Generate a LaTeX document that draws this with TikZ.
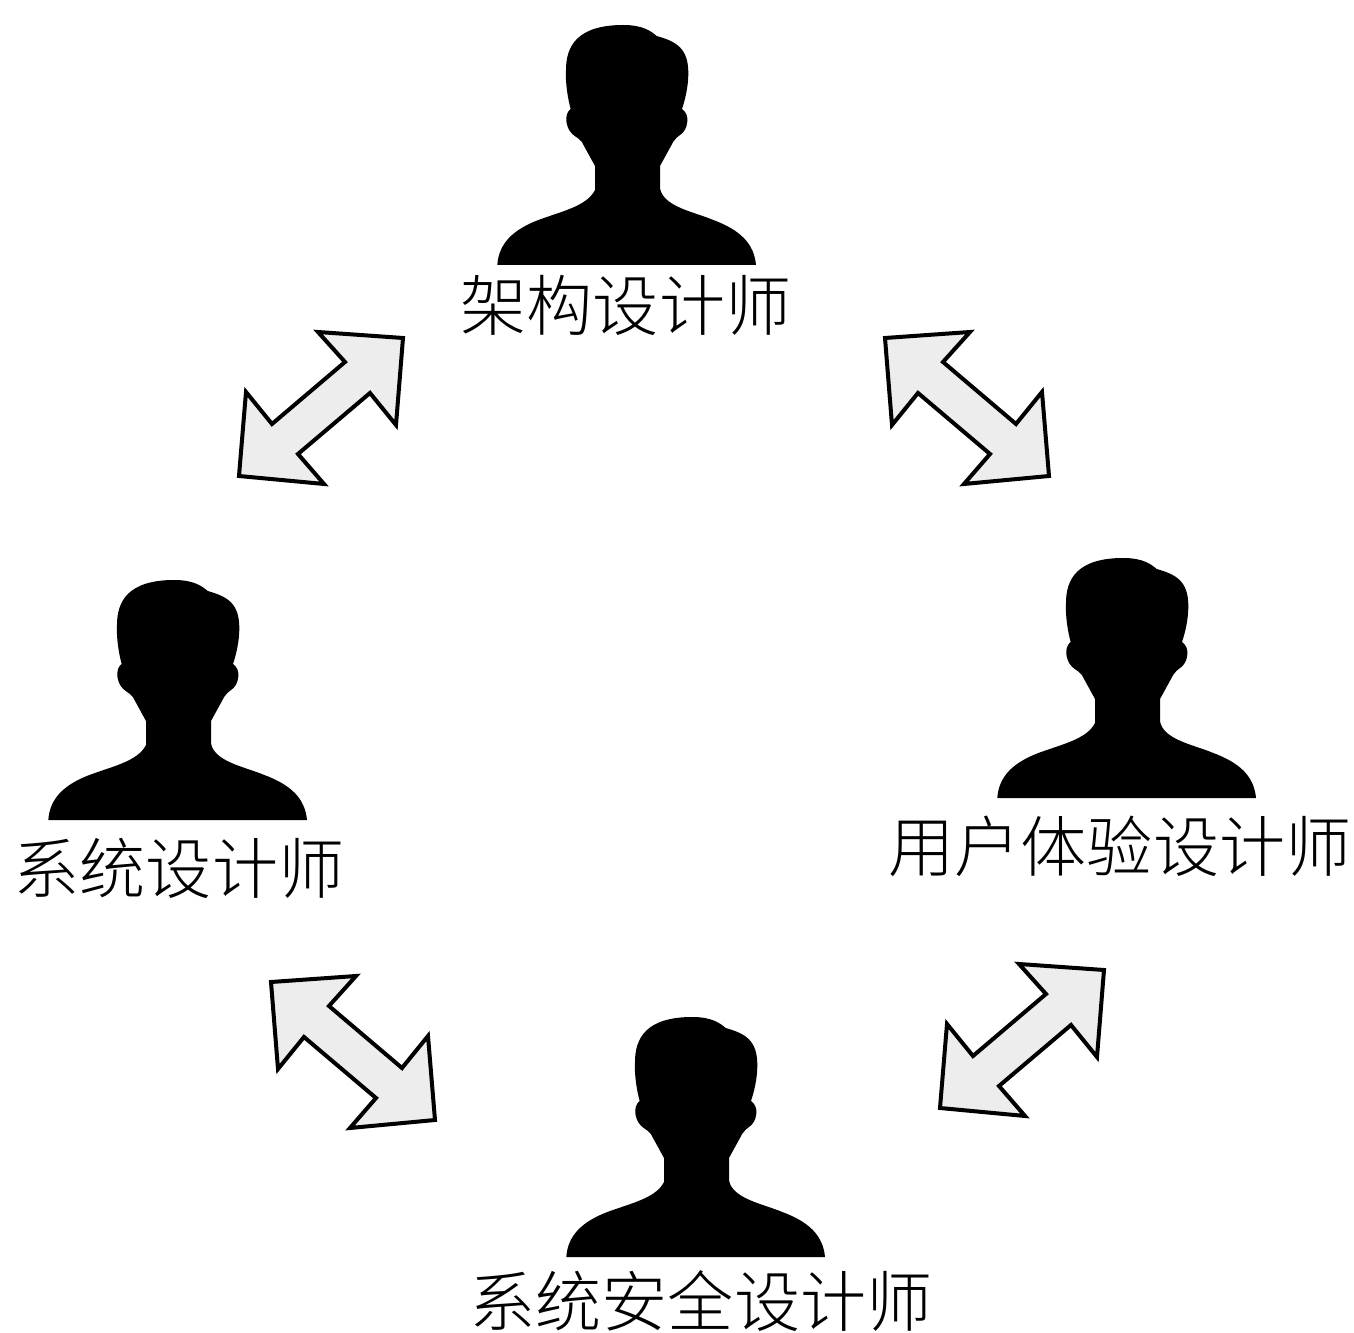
\documentclass[tikz,border=0pt]{standalone}
\usepackage{fontspec}
\newfontfamily\cjk[UprightFont={* Light}]{Noto Sans CJK SC}
\tikzset{
  lbl/.style={inner sep=0pt,font=\cjk\fontsize{49.6}{52}\selectfont,text=black},
  blockarrow/.style={draw=black,fill=black!7,line width=3pt,line join=miter,miter limit=6},
  person/.pic={
    \fill[black,x=0.25pt,y=-0.25pt] (52,765) .. controls (56,700) and (100,660) .. (170,632)
      .. controls (240,605) and (320,590) .. (345,540) -- (345,468) -- (305,395)
      .. controls (295,380) and (268,378) .. (260,340) .. controls (256,318) and (262,305) .. (272,297)
      .. controls (262,260) and (256,215) .. (258,180) .. controls (258,110) and (290,45) .. (430,45)
      .. controls (490,45) and (515,65) .. (530,78) .. controls (590,95) and (625,115) .. (625,190)
      .. controls (625,230) and (615,270) .. (606,297) .. controls (618,305) and (624,320) .. (622,335)
      .. controls (618,375) and (590,375) .. (580,395) -- (540,468) -- (540,535)
      .. controls (550,590) and (640,605) .. (700,630) .. controls (780,660) and (822,700) .. (828,765) -- cycle;
  },
  dblarrow/.pic={
    \draw[blockarrow,x=0.75pt,y=-0.75pt] (318,332) -- (403,338) -- (396,425) -- (370,393)
      -- (298,454) -- (324,484) -- (239,476) -- (246,392) -- (272,424) -- (345,362) -- cycle;
  }
}
\begin{document}
\begin{tikzpicture}[x=0.75pt,y=-0.75pt]
\useasboundingbox (0,0) rectangle (1354,1333);
% persons
\pic at (480,10) {person};
\pic at (31,565) {person};
\pic at (980,543) {person};
\pic at (549,1002) {person};
% labels
\node[lbl] (arch) at (626,305) {架构设计师};
\node[lbl] (sys) at (179,868) {系统设计师};
\node[lbl] (ux) at (1120,846) {用户体验设计师};
\node[lbl] (sec) at (701,1301) {系统安全设计师};
% arrows
\pic at (0,0) {dblarrow};
\pic[xscale=-1] at (1288,0) {dblarrow};
\pic[xscale=-1] at (674,644) {dblarrow};
\pic at (701,632) {dblarrow};
\end{tikzpicture}
\end{document}
